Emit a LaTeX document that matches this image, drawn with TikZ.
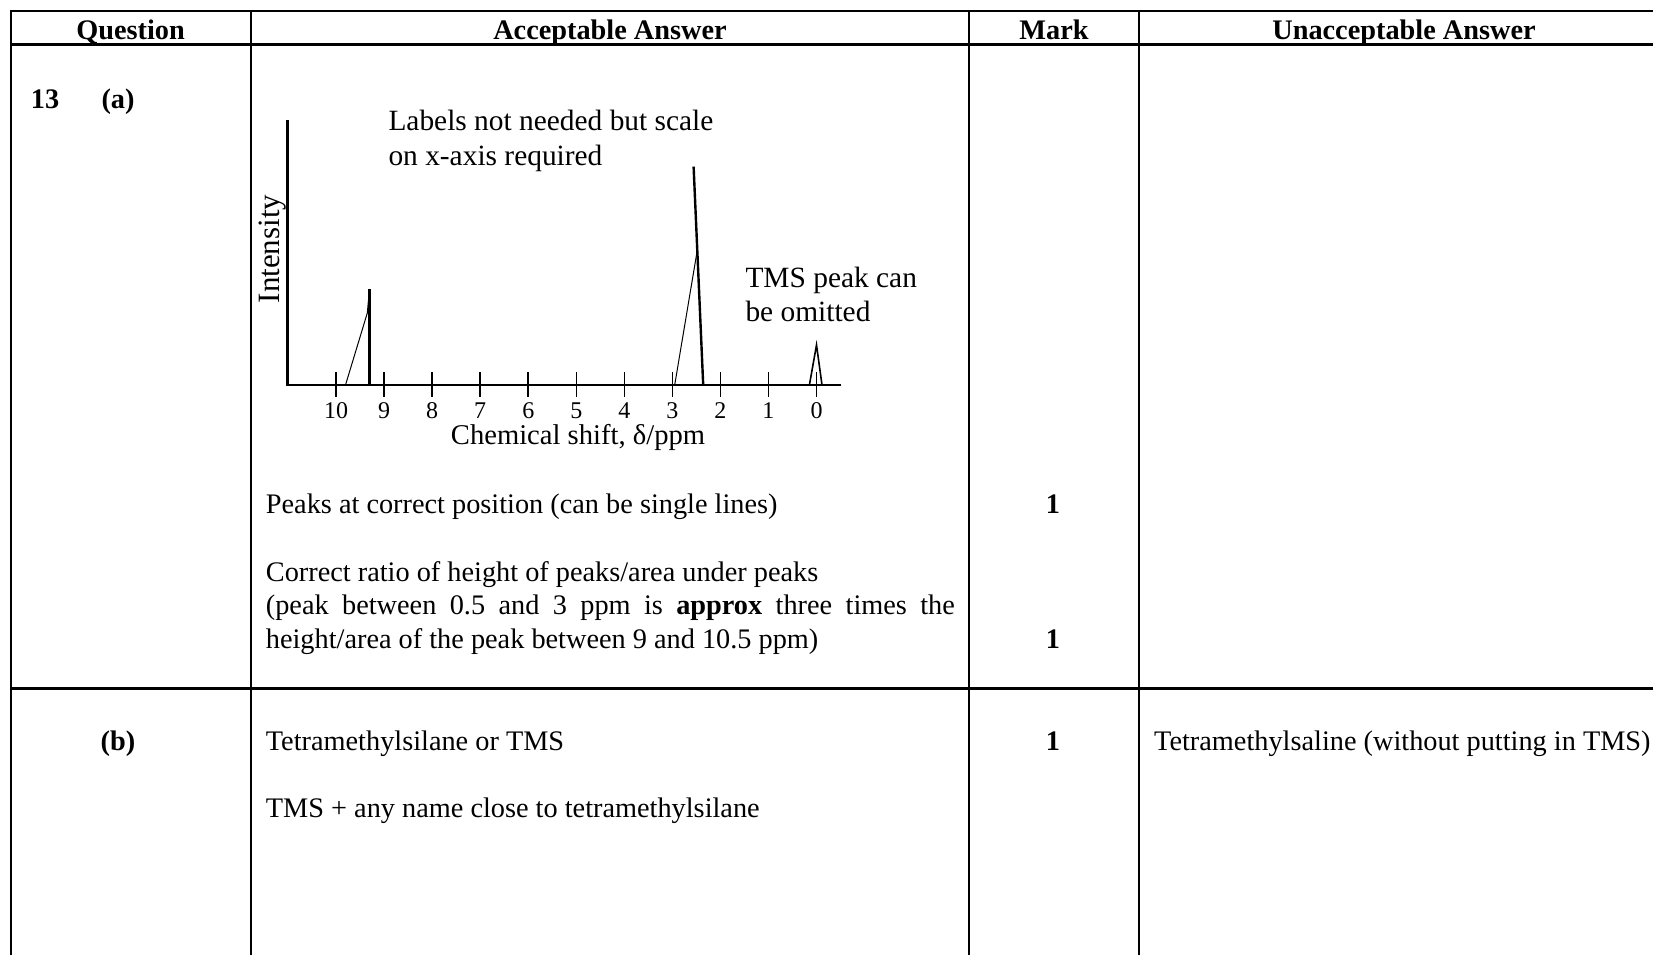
\documentclass[tikz,border=0pt]{standalone}
\usepackage{fontspec}
\setmainfont{Liberation Serif}

\tikzstyle{rulings} = [line width = 2pt]
\tikzstyle{heavy} = [line width = 3pt]
\tikzstyle{head} = [inner sep = 0, anchor = base, font = \fontsize{28.3}{33}\selectfont\bfseries]
\tikzstyle{body} = [inner sep = 0, anchor = base west, font = \fontsize{28.3}{33}\selectfont]
\tikzstyle{note} = [inner sep = 0, anchor = base west, font = \fontsize{29.4}{33}\selectfont]
\tikzstyle{ticklabel} = [inner sep = 0, anchor = base, font = \fontsize{24}{28}\selectfont]
\tikzstyle{axis} = [line width = 2.2pt]
\tikzstyle{tick} = [line width = 1.6pt]
\tikzstyle{slope} = [line width = 1pt]
\tikzstyle{peak} = [line width = 2.4pt]

\begin{document}
\begin{tikzpicture}[x = 1pt, y = -1pt]

    \useasboundingbox (0,0) rectangle (1653,955);

    \draw[rulings] (10.5,955) -- (10.5,11) -- (1653,11);
    \draw[heavy] (10.5,45) -- (1653,45);
    \draw[heavy] (10.5,688.5) -- (1653,688.5);
    \draw[rulings] (251,11) -- (251,955);
    \draw[rulings] (969,11) -- (969,955);
    \draw[rulings] (1139,11) -- (1139,955);

    \node(question)[head] at (130.5,40) {Question};
    \node(accept)[head] at (610,40) {Acceptable Answer};
    \node(markhead)[head] at (1054,40) {Mark};
    \node(unaccept)[head] at (1404,40) {Unacceptable Answer};

    \node(qnum)[head] at (45,109) {13};
    \node(parta)[head] at (118,109) {(a)};
    \node(partb)[head] at (118,750) {(b)};

    \draw[axis] (287.5,120) -- (287.5,385) -- (841,385);
    \foreach \v in {0,...,10} {
        \draw[tick] ({816.5-48.04*\v},372) -- ({816.5-48.04*\v},397);
        \node(tick\v)[ticklabel] at ({816.5-48.04*\v},418) {\v};
    }
    \node(shift)[body, anchor = base, font = \fontsize{28.6}{33}\selectfont] at (578,444) {Chemical shift, δ/ppm};
    \node(intensity)[body, anchor = base, rotate = 90, font = \fontsize{31}{33}\selectfont] at (279.5,249) {Intensity};

    \draw[slope] (345.5,385) -- (367.3,313) -- (369.5,289);
    \draw[peak] (369.5,289) -- (369.5,385);
    \draw[slope] (674.7,385) -- (696.8,253);
    \draw[peak] (693.6,166.6) -- (703.2,385);
    \draw[slope, line width = 1.6pt] (809.4,385) -- (816.5,345) -- (822,385);

    \node(labels)[note] at (388.3,131) {Labels not needed but scale};
    \node(labelsb)[note] at (388.3,165.5) {on x-axis required};
    \node(tms)[note] at (745.3,287) {TMS peak can};
    \node(tmsb)[note] at (745.3,321) {be omitted};

    \node(peakpos)[body] at (265.7,513) {Peaks at correct position (can be single lines)};
    \node(ratio)[body] at (265.7,581) {Correct ratio of height of peaks/area under peaks};
    \node(ratiob)[body] at (265.7,614.5) {\makebox[689pt][s]{(peak between 0.5 and 3 ppm is \textbf{approx} three times the}};
    \node(ratioc)[body] at (265.7,648) {height/area of the peak between 9 and 10.5 ppm)};
    \node(mark1)[head] at (1053,513) {1};
    \node(mark2)[head] at (1053,648) {1};

    \node(silane)[body] at (265.7,750) {Tetramethylsilane or TMS};
    \node(closename)[body] at (265.7,817) {TMS + any name close to tetramethylsilane};
    \node(mark3)[head] at (1053,750) {1};
    \node(saline)[body] at (1154,750) {Tetramethylsaline (without putting in TMS)};

\end{tikzpicture}
\end{document}
